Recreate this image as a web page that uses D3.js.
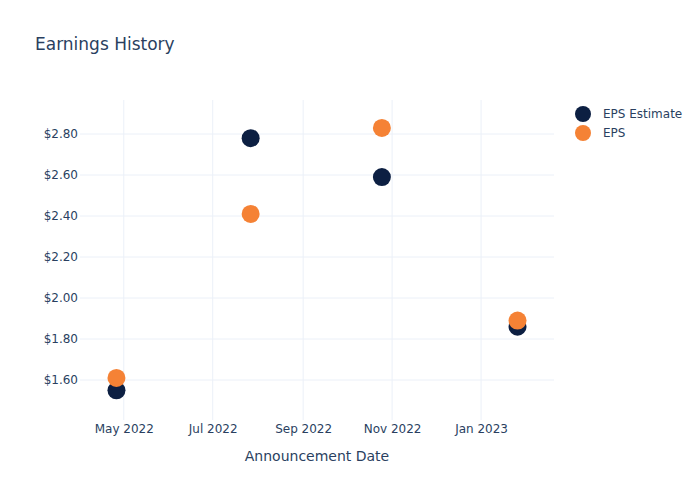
<!DOCTYPE html>
<html lang="en">
<head>
<meta charset="utf-8">
<script src="https://d3js.org/d3.v7.min.js"></script>
<style>
  body { margin: 0; background: #fff; }
  svg text { font-family: "DejaVu Sans", sans-serif; fill: #2a3f5f; }
</style>
</head>
<body>
<script>
// data
const dates = ["2022-04-26", "2022-07-27", "2022-10-25", "2023-01-26"];
const epsEstimate = [1.55, 2.78, 2.59, 1.86];
const eps = [1.61, 2.41, 2.83, 1.89];
const yTicks = [1.6, 1.8, 2.0, 2.2, 2.4, 2.6, 2.8];
const xTicks = ["2022-05-01", "2022-07-01", "2022-09-01", "2022-11-01", "2023-01-01"];
const seriesNames = ["EPS Estimate", "EPS"];
const seriesColors = ["#0c1f42", "#f58235"];

const width = 700, height = 500;
const margin = {top: 100, right: 146, bottom: 80, left: 80};
const parse = d3.utcParse("%Y-%m-%d");

const svg = d3.select("body").append("svg")
    .attr("width", width)
    .attr("height", height);

const x = d3.scaleUtc()
    .domain([parse("2022-04-01"), parse("2023-02-20")])
    .range([margin.left, width - margin.right]);

const y = d3.scaleLinear()
    .domain([1.405, 2.966])
    .range([height - margin.bottom, margin.top]);

// grid
svg.append("g").selectAll("line.v")
  .data(xTicks)
  .join("line")
    .attr("x1", d => x(parse(d))).attr("x2", d => x(parse(d)))
    .attr("y1", margin.top).attr("y2", height - margin.bottom)
    .attr("stroke", "#ebf0f8").attr("stroke-width", 1);

svg.append("g").selectAll("line.h")
  .data(yTicks)
  .join("line")
    .attr("x1", margin.left).attr("x2", width - margin.right)
    .attr("y1", d => y(d)).attr("y2", d => y(d))
    .attr("stroke", "#ebf0f8").attr("stroke-width", 1);

// axes
const yAxis = svg.append("g")
    .attr("transform", `translate(${margin.left},0)`)
    .call(d3.axisLeft(y).tickValues(yTicks).tickFormat(d => "$" + d.toFixed(2)).tickSize(0).tickPadding(2));
yAxis.select(".domain").remove();
yAxis.selectAll("text").style("font-size", "12px");

const xAxis = svg.append("g")
    .attr("transform", `translate(0,${height - margin.bottom})`)
    .call(d3.axisBottom(x).tickValues(xTicks.map(parse)).tickFormat(d3.utcFormat("%b %Y")).tickSize(0).tickPadding(4));
xAxis.select(".domain").remove();
xAxis.selectAll("text").style("font-size", "12px");

// points
[epsEstimate, eps].forEach((vals, i) => {
  svg.append("g").selectAll("circle")
    .data(vals)
    .join("circle")
      .attr("cx", (d, j) => x(parse(dates[j])))
      .attr("cy", d => y(d))
      .attr("r", 9)
      .attr("fill", seriesColors[i]);
});

// title
svg.append("text")
    .attr("x", 35).attr("y", 50)
    .style("font-size", "17px")
    .text("Earnings History");

// x axis title
svg.append("text")
    .attr("x", (margin.left + width - margin.right) / 2)
    .attr("y", 461)
    .attr("text-anchor", "middle")
    .style("font-size", "14px")
    .text("Announcement Date");

// legend
const legend = svg.append("g").selectAll("g")
  .data(seriesNames)
  .join("g")
    .attr("transform", (d, i) => `translate(583,${114 + i * 19})`);
legend.append("circle").attr("r", 8).attr("fill", (d, i) => seriesColors[i]);
legend.append("text")
    .attr("x", 20).attr("dy", "0.35em")
    .style("font-size", "12px")
    .text(d => d);
</script>
</body>
</html>
